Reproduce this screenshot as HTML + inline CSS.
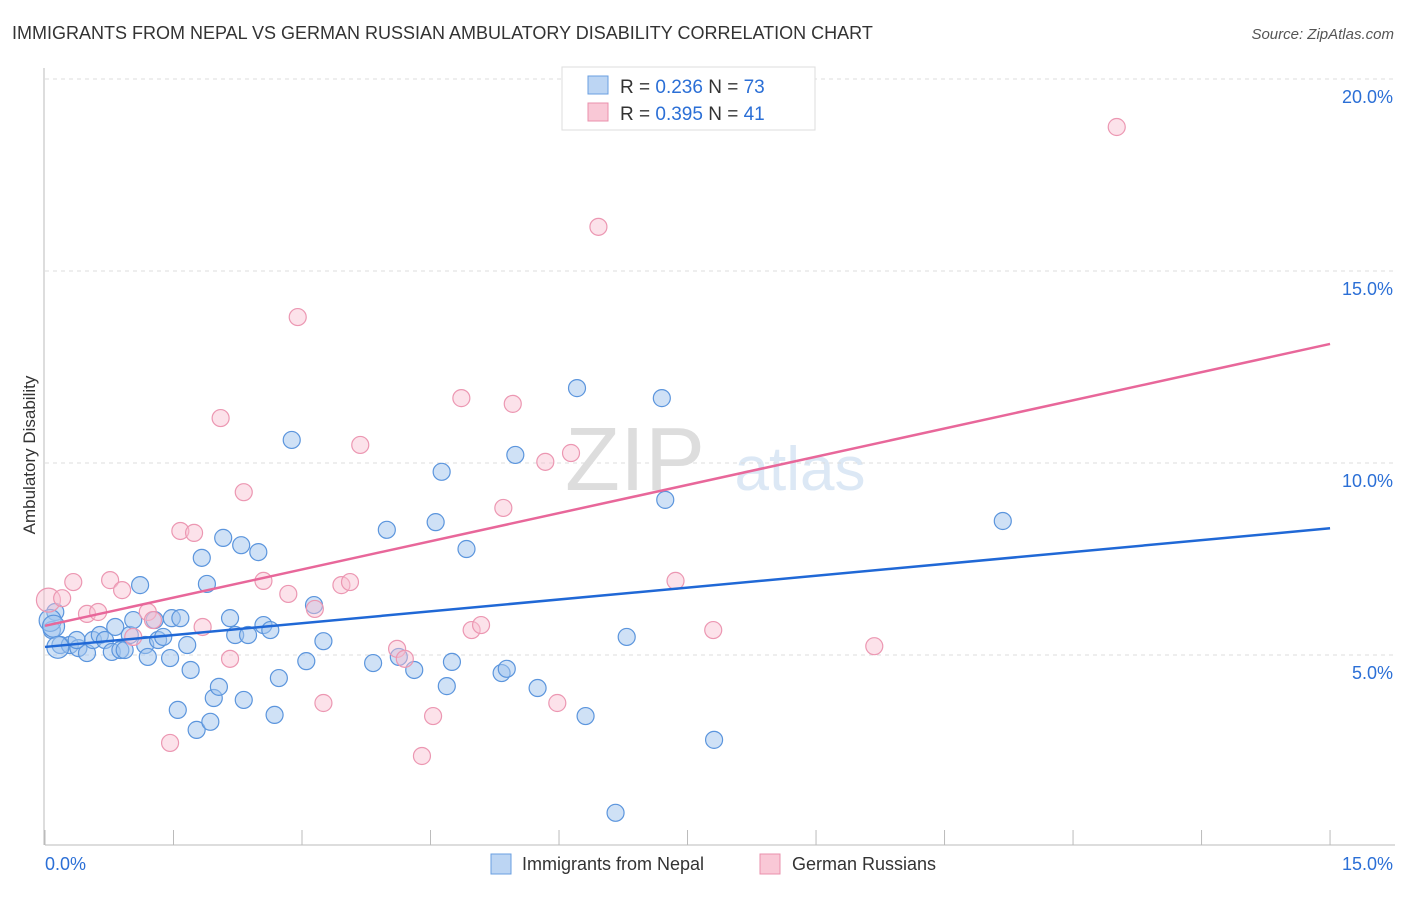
<!DOCTYPE html>
<html><head><meta charset="utf-8"><style>
body{margin:0;background:#fff;font-family:"Liberation Sans",sans-serif;}
svg text{font-family:"Liberation Sans",sans-serif;}
</style></head><body>
<svg width="1406" height="892" xmlns="http://www.w3.org/2000/svg">
<text x="12" y="39" font-size="18" fill="#333">IMMIGRANTS FROM NEPAL VS GERMAN RUSSIAN AMBULATORY DISABILITY CORRELATION CHART</text>
<text x="1394" y="39" font-size="15" fill="#555" font-style="italic" text-anchor="end">Source: ZipAtlas.com</text>
<text x="35" y="455" font-size="17" fill="#333" text-anchor="middle" transform="rotate(-90 35 455)">Ambulatory Disability</text>
<text x="635" y="490" font-size="90" fill="#ddd" font-family="Liberation Serif" text-anchor="middle">ZIP</text>
<text x="800" y="490" font-size="62" fill="#dce8f5" text-anchor="middle">atlas</text>
<g id="grid"></g><g id="axes"></g><g id="pts"></g><g id="lines"></g>
<g>
<rect x="562" y="67" width="253" height="63" fill="#fff" stroke="#ddd"/>
<rect x="588" y="76" width="20" height="18" fill="#bcd5f3" stroke="#6a9fe0"/>
<rect x="588" y="103" width="20" height="18" fill="#f9c8d6" stroke="#ea90ac"/>
<text x="620" y="93" font-size="19" fill="#333">R = <tspan fill="#2b6fd6">0.236</tspan>   N = <tspan fill="#2b6fd6">73</tspan></text>
<text x="620" y="120" font-size="19" fill="#333">R = <tspan fill="#2b6fd6">0.395</tspan>   N =  <tspan fill="#2b6fd6">41</tspan></text>
</g>
<g>
<rect x="491" y="854" width="20" height="20" fill="#bcd5f3" stroke="#6a9fe0"/>
<text x="522" y="870" font-size="18" fill="#333">Immigrants from Nepal</text>
<rect x="760" y="854" width="20" height="20" fill="#f9c8d6" stroke="#ea90ac"/>
<text x="792" y="870" font-size="18" fill="#333">German Russians</text>
</g>
</svg>
<script>
const blueX=[0.12,0.08,0.18,0.29,0.39,0.49,0.37,0.56,0.64,0.70,0.78,0.88,0.93,0.82,0.99,1.03,1.11,1.17,1.20,1.28,1.32,1.38,1.46,1.48,1.58,1.66,1.70,1.55,1.77,1.93,1.97,2.03,1.89,1.83,2.08,2.16,2.22,2.29,2.32,2.37,2.49,2.55,2.63,2.68,2.73,2.88,3.05,3.14,3.25,3.83,3.99,4.13,4.31,4.56,4.63,4.69,4.75,4.92,5.33,5.39,5.49,5.75,6.21,6.31,6.66,6.79,7.20,7.24,7.81,11.18,0.06,0.10,0.15];
const blueY=[6.12,5.65,5.26,5.26,5.18,5.05,5.39,5.39,5.52,5.39,5.08,5.13,5.13,5.73,5.52,5.91,6.82,5.26,4.95,5.91,5.39,5.47,4.92,5.96,5.96,5.26,4.61,3.57,3.05,3.26,3.88,4.17,6.85,7.53,8.05,5.96,5.52,7.86,3.83,5.52,7.68,5.78,5.65,3.44,4.40,10.60,4.84,6.30,5.36,4.79,8.26,4.95,4.61,8.46,9.77,4.19,4.82,7.76,4.53,4.64,10.21,4.14,11.95,3.41,0.89,5.47,11.69,9.04,2.79,8.49,5.9,5.75,5.2];
const pinkX=[0.04,0.20,0.33,0.49,0.62,0.76,0.90,1.03,1.20,1.26,1.46,1.58,1.74,1.84,2.05,2.16,2.32,2.55,2.84,2.95,3.15,3.25,3.46,3.56,3.68,4.11,4.20,4.40,4.53,4.86,4.98,5.09,5.35,5.46,5.84,5.98,6.14,6.46,7.36,7.80,9.68,12.51];
const pinkY=[6.43,6.48,6.90,6.07,6.12,6.95,6.69,5.47,6.12,5.91,2.71,8.23,8.18,5.73,11.17,4.90,9.24,6.93,6.59,13.80,6.20,3.75,6.82,6.90,10.47,5.16,4.90,2.37,3.41,11.69,5.65,5.78,8.83,11.54,10.03,3.75,10.26,16.15,6.93,5.65,5.23,18.75];
const blueTrend=[5.21,8.30];
const pinkTrend=[5.76,13.10];
const yTicks=[5,10,15,20];
const xTickLabels=["0.0%","15.0%"];
const NS="http://www.w3.org/2000/svg";
const X=v=>45+v*85.67, Y=v=>847-v*38.4;
function mk(p,t,a){const e=document.createElementNS(NS,t);for(const k in a)e.setAttribute(k,a[k]);document.getElementById(p).appendChild(e);return e;}
yTicks.forEach(t=>{
 const l=mk('grid','line',{x1:45,x2:1395,y1:Y(t),y2:Y(t),stroke:'#ddd','stroke-dasharray':'4,4'});
 
 
 const tx=mk('grid','text',{x:1393,y:Y(t)+24,'font-size':18,fill:'#2b6fd6','text-anchor':'end'});
 tx.textContent=t.toFixed(1)+'%';
 
 
});
const ax=mk('axes','line',{x1:45,x2:1395,y1:845,y2:845,stroke:'#bbb'});


const ay=mk('axes','line',{x1:44,x2:44,y1:68,y2:845,stroke:'#bbb'});


for(let i=0;i<=10;i++){const t=mk('axes','line',{x1:X(i*1.5),x2:X(i*1.5),y1:830,y2:845,stroke:'#bbb'});
 
 }
[[0,'start',45],[1,'end',1393]].forEach(([i,a,x])=>{const t=mk('axes','text',{x:x,y:870,'font-size':18,fill:'#2b6fd6','text-anchor':a});t.textContent=xTickLabels[i];
 
 });
blueX.forEach((x,i)=>{const c=mk('pts','circle',{cx:X(x),cy:Y(blueY[i]),r:i>=70?11:8.5,fill:'rgba(160,195,238,0.5)',stroke:'#5b95dd','stroke-width':1.2});
 
 });
pinkX.forEach((x,i)=>{const c=mk('pts','circle',{cx:X(x),cy:Y(pinkY[i]),r:i==0?12:8.5,fill:'rgba(248,190,208,0.45)',stroke:'#ec97b2','stroke-width':1.2});
 
 });
const bl=mk('lines','line',{x1:X(0),x2:X(15),y1:Y(blueTrend[0]),y2:Y(blueTrend[1]),stroke:'#2068d6','stroke-width':2.5});


const pl=mk('lines','line',{x1:X(0),x2:X(15),y1:Y(pinkTrend[0]),y2:Y(pinkTrend[1]),stroke:'#e8679a','stroke-width':2.5});


</script>
</body></html>
